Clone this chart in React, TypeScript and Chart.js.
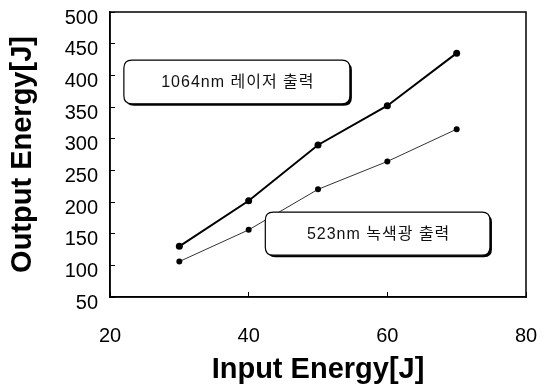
import React, { useEffect, useRef } from "react";
import { Chart, registerables } from "chart.js";

Chart.register(...registerables);

// ---- data ----
const inputEnergy = [30, 40, 50, 60, 70];
const output1064 = [130, 202, 290, 352, 435];
const output523 = [106, 156, 220, 264, 315];

const seriesNames = ["1064nm", "523nm"];

// annotation boxes (data coordinates) and their texts
const noteTexts = ["1064nm 레이저 출력", "523nm 녹색광 출력"];
const noteXRange = [
  [22, 54.6],
  [42.4, 74.8],
];
const noteYRange = [
  [424, 355],
  [184, 116],
];

const xTitle = "Input Energy[J]";
const yTitle = "Output Energy[J]";

const roundRect = (ctx: CanvasRenderingContext2D, x: number, y: number, w: number, h: number, r: number) => {
  ctx.beginPath();
  ctx.moveTo(x + r, y);
  ctx.lineTo(x + w - r, y);
  ctx.quadraticCurveTo(x + w, y, x + w, y + r);
  ctx.lineTo(x + w, y + h - r);
  ctx.quadraticCurveTo(x + w, y + h, x + w - r, y + h);
  ctx.lineTo(x + r, y + h);
  ctx.quadraticCurveTo(x, y + h, x, y + h - r);
  ctx.lineTo(x, y + r);
  ctx.quadraticCurveTo(x, y, x + r, y);
  ctx.closePath();
};

const framePlugin = {
  id: "frameAndNotes",
  afterDatasetsDraw(chart: any) {
    const { ctx, chartArea, scales } = chart;
    ctx.save();
    // frame
    ctx.strokeStyle = "#000";
    ctx.lineWidth = 1.5;
    ctx.strokeRect(chartArea.left, chartArea.top, chartArea.right - chartArea.left, chartArea.bottom - chartArea.top);
    // notes
    noteTexts.forEach((t, i) => {
      const x1 = scales.x.getPixelForValue(noteXRange[i][0]);
      const x2 = scales.x.getPixelForValue(noteXRange[i][1]);
      const y1 = scales.y.getPixelForValue(noteYRange[i][0]);
      const y2 = scales.y.getPixelForValue(noteYRange[i][1]);
      const w = x2 - x1;
      const h = y2 - y1;
      ctx.fillStyle = "#000";
      roundRect(ctx, x1 + 2, y1 + 2, w, h, 8);
      ctx.fill();
      ctx.fillStyle = "#fff";
      roundRect(ctx, x1, y1, w, h, 8);
      ctx.fill();
      ctx.lineWidth = 1.2;
      ctx.strokeStyle = "#000";
      ctx.stroke();
      ctx.fillStyle = "#111";
      ctx.font = '16px "Liberation Sans", "Noto Sans CJK KR", sans-serif';
      (ctx as any).letterSpacing = "1px";
      ctx.textAlign = "center";
      ctx.textBaseline = "middle";
      ctx.fillText(t, x1 + w / 2 + 1, y1 + h / 2 + 1);
    });
    ctx.restore();
  },
};

export default function App() {
  const ref = useRef<HTMLCanvasElement | null>(null);
  useEffect(() => {
    if (!ref.current) return;
    const tickFont = { family: '"Liberation Sans", Arial, sans-serif', size: 20 };
    const titleFont = { family: '"Liberation Sans", Arial, sans-serif', size: 29, weight: "bold" as const };
    const chart = new Chart(ref.current, {
      type: "line",
      data: {
        datasets: [
          {
            label: seriesNames[0],
            data: inputEnergy.map((x, i) => ({ x, y: output1064[i] })),
            borderColor: "#000",
            backgroundColor: "#000",
            borderWidth: 2,
            pointRadius: 3.5,
            pointBackgroundColor: "#000",
            pointBorderWidth: 0,
            tension: 0,
          },
          {
            label: seriesNames[1],
            data: inputEnergy.map((x, i) => ({ x, y: output523[i] })),
            borderColor: "#333",
            backgroundColor: "#000",
            borderWidth: 1,
            pointRadius: 3,
            pointBackgroundColor: "#000",
            pointBorderWidth: 0,
            tension: 0,
          },
        ],
      },
      options: {
        animation: false,
        responsive: true,
        maintainAspectRatio: false,
        layout: { padding: { top: 12, right: 27, left: 0, bottom: 0 } },
        plugins: { legend: { display: false }, tooltip: { enabled: false } },
        scales: {
          x: {
            type: "linear",
            min: 20,
            max: 80,
            afterFit: (s: any) => {
              s.height = 90;
              s.paddingLeft = 0;
              s.paddingRight = 0;
            },
            ticks: { stepSize: 20, font: tickFont, color: "#000", padding: 32, autoSkip: false, maxRotation: 0 },
            grid: { drawOnChartArea: false, drawTicks: true, tickLength: -5, color: "#000", lineWidth: 1 },
            border: { display: true, color: "#000", width: 1.5 },
            title: { display: true, text: xTitle, font: titleFont, color: "#000", padding: { top: 0, bottom: 0 } },
          },
          y: {
            type: "linear",
            min: 50,
            max: 500,
            afterFit: (s: any) => {
              s.width = 110;
              s.paddingTop = 0;
              s.paddingBottom = 0;
            },
            ticks: { stepSize: 50, font: tickFont, color: "#000", padding: 17, autoSkip: false, labelOffset: 6 },
            grid: { drawOnChartArea: false, drawTicks: true, tickLength: -5, color: "#000", lineWidth: 1 },
            border: { display: true, color: "#000", width: 1.5 },
            title: { display: true, text: yTitle, font: titleFont, color: "#000", padding: { top: 6, bottom: 0 } },
          },
        },
      },
      plugins: [framePlugin],
    });
    return () => chart.destroy();
  }, []);
  return (
    <div style={{ position: "fixed", left: 0, top: 0, width: 553, height: 387, background: "#fff" }}>
      <canvas ref={ref} />
    </div>
  );
}
